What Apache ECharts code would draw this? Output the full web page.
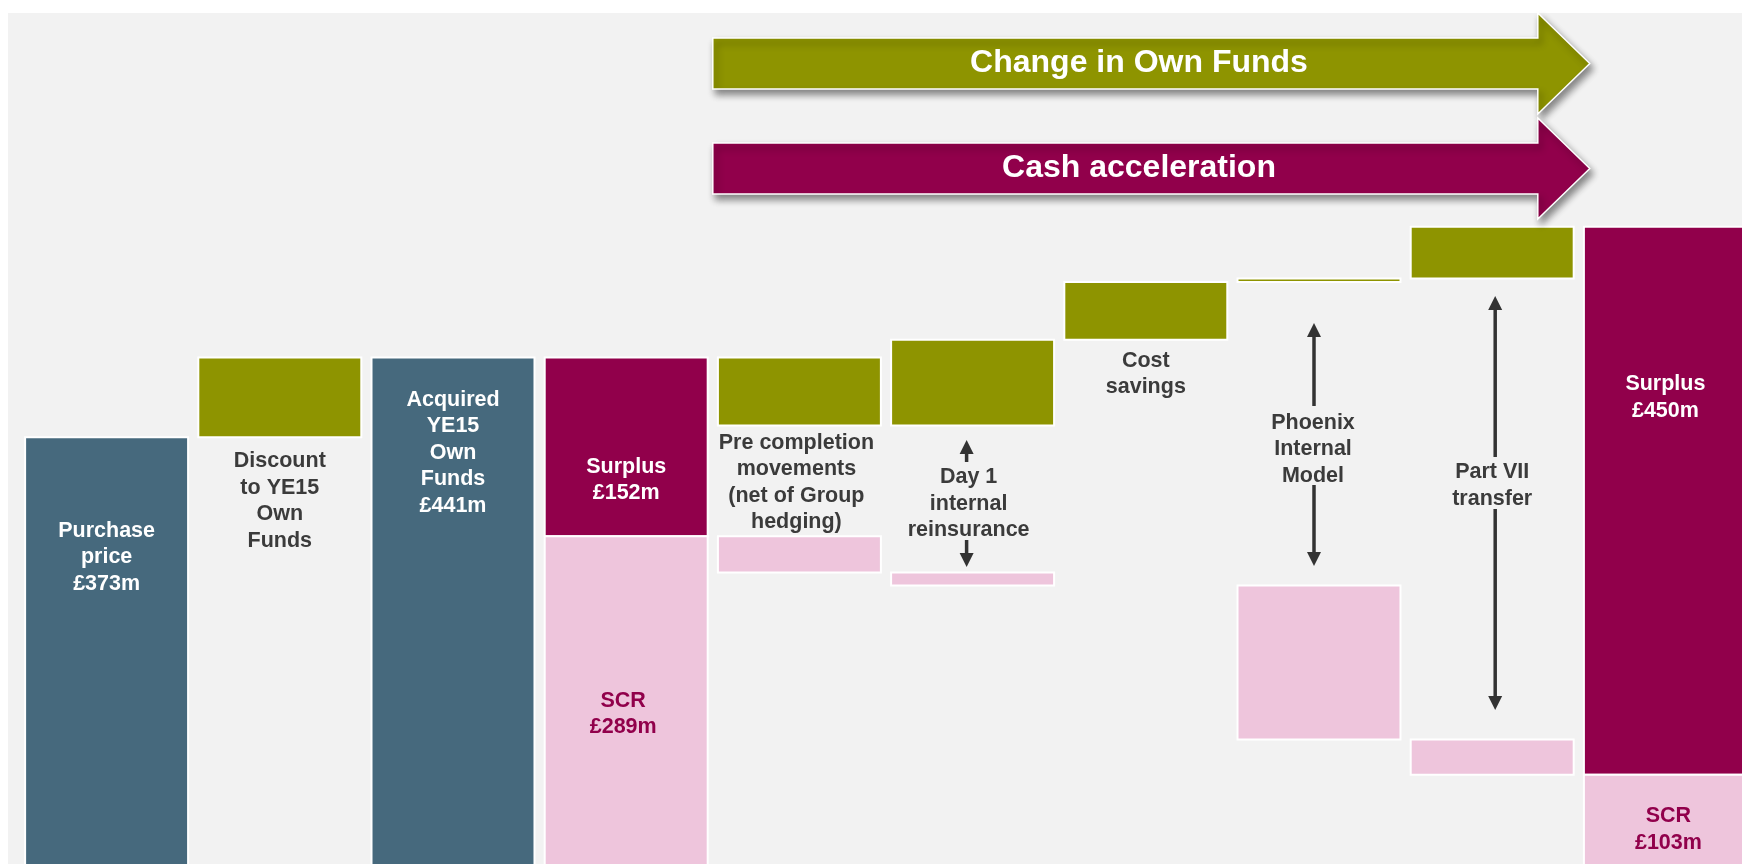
<!DOCTYPE html>
<html>
<head>
<meta charset="utf-8">
<script src="https://cdn.jsdelivr.net/npm/echarts@6/dist/echarts.min.js"></script>
<style>
html,body{margin:0;padding:0;background:#ffffff;}
#chart{width:1742px;height:864px;}
</style>
</head>
<body>
<div id="chart"></div>
<script>
// ---------------- data (£m) ----------------
const categories = ['Purchase price', 'Discount to YE15 Own Funds', 'Acquired YE15 Own Funds', 'Own Funds split',
  'Pre completion movements', 'Day 1 internal reinsurance', 'Cost savings', 'Phoenix Internal Model',
  'Part VII transfer', 'Closing position'];
const purchasePrice = 373;
const discountToOwnFunds = 68;
const openingSCR = 289;
// movements for categories 4..8
const ownFundsSteps = [-58, 73, 49, 3, 44];
const scrSteps = [-31, -11, 0, -131, -30];

const labelTexts = [
  'Purchase\nprice\n£373m',
  'Discount\nto YE15\nOwn\nFunds',
  'Acquired\nYE15\nOwn\nFunds\n£441m',
  'Surplus\n£152m',
  'SCR\n£289m',
  'Pre completion\nmovements\n(net of Group\nhedging)',
  'Day 1\ninternal\nreinsurance',
  'Cost\nsavings',
  'Phoenix\nInternal\nModel',
  'Part VII\ntransfer',
  'Surplus\n£450m',
  'SCR\n£103m'
];
const arrowTitles = ['Change in Own Funds', 'Cash acceleration'];

// ---------------- build waterfall segments ----------------
const COLORS = ['#46697D', '#8E9400', '#91004B', '#EEC5DC']; // blue, green, magenta, pink
const segments = []; // [category index, low, high, colourIndex]
const greenSeg = {};
const acquired = purchasePrice + discountToOwnFunds;
segments.push([0, 0, purchasePrice, 0]);
segments.push([1, purchasePrice, acquired, 1]); greenSeg[1] = [purchasePrice, acquired];
segments.push([2, 0, acquired, 0]);
segments.push([3, openingSCR, acquired, 2]);
segments.push([3, 0, openingSCR, 3]);
let ownFunds = acquired, scr = openingSCR;
ownFundsSteps.forEach(function (d, i) {
  const c = 4 + i;
  const n = ownFunds + d;
  const lo = Math.min(ownFunds, n), hi = Math.max(ownFunds, n);
  segments.push([c, lo, hi, 1]); greenSeg[c] = [lo, hi];
  ownFunds = n;
  const sd = scrSteps[i];
  if (sd !== 0) {
    const ns = scr + sd;
    segments.push([c, Math.min(scr, ns), Math.max(scr, ns), 3]);
    scr = ns;
  }
});
segments.push([categories.length - 1, scr, ownFunds, 2]);
segments.push([categories.length - 1, 0, scr, 3]);

// label placement: [cat, reference value, label index, dx, dy(px from reference), colour]
const DARK = '#3B3B3B', WHITE = '#FFFFFF', MAG = '#91004B';
const labelSpecs = [
  [0, purchasePrice, 0, 0, 120, WHITE],
  [1, greenSeg[1][0], 1, 0, 63.5, DARK],
  [2, acquired, 2, 0, 95.5, WHITE],
  [3, acquired, 3, 0, 122.5, WHITE],
  [3, openingSCR, 4, -3, 178, MAG],
  [4, greenSeg[4][0], 5, -3, 57, DARK],
  [5, greenSeg[5][0], 6, -4, 78, DARK],
  [6, greenSeg[6][0], 7, 0, 34.5, DARK],
  [7, greenSeg[7][1], 8, -6, 170.5, DARK],
  [8, greenSeg[8][0], 9, 0, 207, DARK],
  [9, ownFunds, 10, 0, 170.5, WHITE],
  [9, scr, 11, 3, 54.5, MAG]
];
// double arrows: [cat, ref value, dx, upTip, upTail, downTail, downTip] (px from ref)
const arrowSpecs = [
  [5, greenSeg[5][0], -6, 14.4, 36.4, 114.4, 141.4],
  [7, greenSeg[7][1], -5, 44.4, 127.4, 206.4, 287.4],
  [8, greenSeg[8][0], 3, 17.4, 178.4, 230.4, 431.4]
];

const FONT = '"Liberation Sans", Arial, Helvetica, sans-serif';

const chart = echarts.init(document.getElementById('chart'), null, {renderer: 'canvas'});

function arrowShapes(x, yTail, yTip) {
  const dir = yTip > yTail ? 1 : -1;
  const headLen = 14, headW = 14;
  return [
    {type: 'line', shape: {x1: x, y1: yTail, x2: x, y2: yTip - dir * (headLen - 1)},
      style: {stroke: '#333333', lineWidth: 3.5}},
    {type: 'polygon', shape: {points: [[x, yTip], [x - headW / 2, yTip - dir * headLen], [x + headW / 2, yTip - dir * headLen]]},
      style: {fill: '#333333'}}
  ];
}

// The picture's last column runs off the right edge and the zero line sits just below the bottom edge,
// so the (hidden) axes keep the grid inside the canvas and put those points just outside it.
const option = {
  animation: false,
  backgroundColor: '#ffffff',
  grid: {left: 20, right: 0, top: 52.8, bottom: 0, containLabel: false, outerBoundsMode: 'none'},
  xAxis: {type: 'value', min: -0.5, max: -0.5 + 1722 / 173.2, show: false},
  yAxis: {type: 'value', min: 12 / 1.176, max: 700, show: false},
  graphic: [
    {type: 'rect', z: -10, silent: true, shape: {x: 8, y: 13, width: 1742, height: 900}, style: {fill: '#F2F2F2'}}
  ],
  series: [
    {
      type: 'custom',
      name: 'segments',
      z: 2,
      clip: false,
      data: segments,
      renderItem: function (params, api) {
        const c = api.value(0), lo = api.value(1), hi = api.value(2), ci = api.value(3);
        const pTop = api.coord([c, hi]);
        const pBot = api.coord([c, lo]);
        const w = api.size([1, 0])[0] * 0.941;
        return {
          type: 'rect',
          shape: {x: pTop[0] - w / 2, y: pTop[1], width: w, height: pBot[1] - pTop[1]},
          style: {fill: COLORS[ci], stroke: '#FFFFFF', lineWidth: 2}
        };
      }
    },
    {
      type: 'custom',
      name: 'labels',
      z: 5,
      clip: false,
      data: labelSpecs.map(function (s) { return [s[0], s[1], s[2], s[3], s[4]]; }),
      renderItem: function (params, api) {
        const s = labelSpecs[params.dataIndex];
        const p = api.coord([s[0], s[1]]);
        return {
          type: 'text',
          x: p[0] + s[3],
          y: p[1] + s[4],
          style: {
            text: labelTexts[s[2]], fill: s[5],
            fontFamily: FONT, fontWeight: 'bold', fontSize: 21.5, lineHeight: 26.5,
            align: 'center', verticalAlign: 'middle'
          }
        };
      }
    },
    {
      type: 'custom',
      name: 'arrows',
      z: 5,
      clip: false,
      data: arrowSpecs.map(function (s) { return [s[0], s[1]]; }),
      renderItem: function (params, api) {
        const s = arrowSpecs[params.dataIndex];
        const p = api.coord([s[0], s[1]]);
        const x = p[0] + s[2], y = p[1];
        return {
          type: 'group',
          children: arrowShapes(x, y + s[4], y + s[3]).concat(arrowShapes(x, y + s[5], y + s[6]))
        };
      }
    }
  ]
};
chart.setOption(option);

// big block arrows above the movement columns (anchored to columns 4 .. 9)
const pStart = chart.convertToPixel({gridIndex: 0}, [4, 0]);
const pEnd = chart.convertToPixel({gridIndex: 0}, [9, 0]);
const band = pEnd[0] - chart.convertToPixel({gridIndex: 0}, [8, 0])[0];
const left = pStart[0] - band * 0.5;
const tip = pEnd[0] - band * 0.5 + 11;
const back = tip - 52;
function blockArrow(cy, color, title) {
  const bh = 25.5, hh = 50.5;
  return [
    {type: 'polygon', z: 50,
      shape: {points: [[left, cy - bh], [back, cy - bh], [back, cy - hh], [tip, cy], [back, cy + hh], [back, cy + bh], [left, cy + bh]]},
      style: {fill: color, stroke: '#FFFFFF', lineWidth: 1.5,
        shadowBlur: 7, shadowOffsetX: 3, shadowOffsetY: 5, shadowColor: 'rgba(0,0,0,0.45)'}},
    {type: 'text', z: 51, x: 1139, y: cy,
      style: {text: title, fill: '#FFFFFF', fontFamily: FONT, fontWeight: 'bold', fontSize: 32,
        align: 'center', verticalAlign: 'middle'}}
  ];
}
chart.setOption({
  graphic: [
    {type: 'rect', z: -10, silent: true, shape: {x: 8, y: 13, width: 1742, height: 900}, style: {fill: '#F2F2F2'}}
  ].concat(blockArrow(63.5, '#8E9400', arrowTitles[0])).concat(blockArrow(168.5, '#91004B', arrowTitles[1]))
}, {replaceMerge: ['graphic']});
</script>
</body>
</html>
